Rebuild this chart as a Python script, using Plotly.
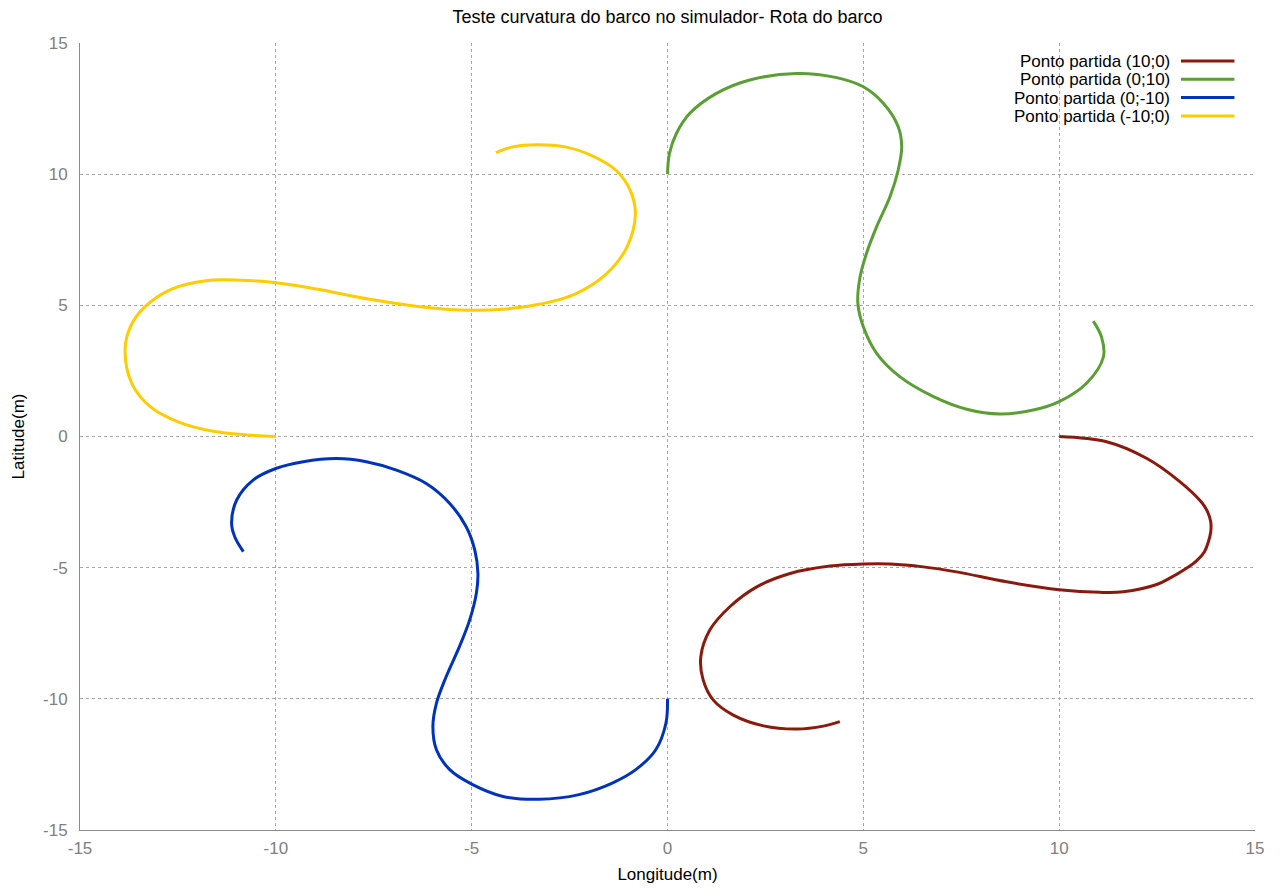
import plotly.graph_objects as go

# ---- data ----
red_x = [10.0, 11.21, 12.23, 13.08, 13.63, 13.79, 13.87, 13.87, 13.81, 13.71, 13.50, 13.22, 12.85, 12.49, 11.64, 11.04, 10.0, 8.66, 7.38,
         6.53, 5.68, 5.0, 4.15, 3.13, 2.28, 1.59, 1.08, 0.85, 0.91, 1.17, 1.68, 2.45, 3.30, 3.98, 4.40]
red_y = [0.0, -0.2, -0.83, -1.72, -2.50, -2.87, -3.25, -3.63, -4.01, -4.39, -4.75, -5.05, -5.38, -5.64, -5.92, -5.94, -5.84, -5.54, -5.16,
         -4.97, -4.86, -4.86, -4.94, -5.22, -5.73, -6.49, -7.38, -8.40, -9.28, -10.05, -10.62, -11.03, -11.15, -11.04, -10.87]

green_x = [0.0, 0.05, 0.23, 0.57, 1.25, 2.10, 3.30, 4.32, 5.0, 5.51, 5.89, 5.98, 5.89, 5.68, 5.34, 5.08, 4.91,
           4.86, 5.0, 5.34, 5.93, 6.79, 7.64, 8.49, 9.34, 10.0, 10.70, 11.13, 11.08, 10.87]
green_y = [10.0, 10.79, 11.56, 12.32, 13.08, 13.59, 13.84, 13.68, 13.33, 12.70, 11.81, 11.05, 10.16, 9.14, 8.0, 6.98, 6.03,
           5.08, 4.18, 3.17, 2.28, 1.52, 1.04, 0.86, 1.01, 1.33, 2.03, 3.04, 3.80, 4.40]

blue_x = [0.0, -0.04, -0.30, -0.81, -1.41, -2.26, -3.28, -4.20, -5.0, -5.56, -5.90, -5.99, -5.90, -5.65, -5.31, -5.05,
          -4.88, -4.84, -4.92, -5.14, -5.56, -6.16, -6.92, -7.69, -8.45, -9.30, -10.0, -10.58, -11.0, -11.13, -11.05, -10.83]
blue_y = [-10.0, -10.93, -11.94, -12.70, -13.21, -13.65, -13.83, -13.72, -13.25, -12.70, -11.94, -11.05, -10.17, -9.15, -8.0, -6.99,
          -5.98, -5.22, -4.33, -3.44, -2.55, -1.79, -1.28, -0.96, -0.84, -0.96, -1.22, -1.66, -2.42, -3.31, -3.82, -4.39]

yellow_x = [-10.0, -10.72, -11.60, -12.48, -13.19, -13.67, -13.85, -13.72, -13.36, -12.66, -11.78, -10.90, -10.0, -8.96, -7.64,
            -6.32, -5.26, -4.12, -3.24, -2.36, -1.57, -1.04, -0.82, -0.95, -1.30, -1.92, -2.62, -3.33, -3.95, -4.38]
yellow_y = [0.0, 0.06, 0.20, 0.55, 1.12, 2.0, 3.27, 4.16, 4.92, 5.62, 5.94, 5.96, 5.86, 5.62, 5.24,
            4.95, 4.82, 4.86, 5.05, 5.43, 6.19, 7.21, 8.48, 9.37, 10.13, 10.70, 11.04, 11.12, 11.04, 10.82]

series_names = ["Ponto partida (10;0)", "Ponto partida (0;10)", "Ponto partida (0;-10)", "Ponto partida (-10;0)"]
tick_vals = [-15, -10, -5, 0, 5, 10, 15]
tick_text = ["-15", "-10", "-5", "0", "5", "10", "15"]

colors = ["#8B1A0E", "#5A9E34", "#0033BB", "#FFCC00"]
FONT = "Liberation Sans, Arial, sans-serif"

fig = go.Figure()
for xs, ys, name, c in zip([red_x, green_x, blue_x, yellow_x], [red_y, green_y, blue_y, yellow_y], series_names, colors):
    fig.add_trace(go.Scatter(x=xs, y=ys, mode="lines", name=name,
                             line=dict(color=c, width=3, shape="spline", smoothing=1.0),
                             showlegend=False))

# custom legend (text on the left, line sample on the right, as in the reference)
leg_y0 = 0.977
leg_dy = 0.0232
for i, (name, c) in enumerate(zip(series_names, colors)):
    yy = leg_y0 - i * leg_dy
    fig.add_annotation(xref="paper", yref="paper", x=0.9285, y=yy, text=name, showarrow=False,
                       xanchor="right", yanchor="middle", height=18, borderpad=0,
                       font=dict(family=FONT, size=17, color="#000000"))
    fig.add_shape(type="line", xref="paper", yref="paper", x0=0.937, x1=0.9825, y0=yy, y1=yy,
                  line=dict(color=c, width=3))

axis_common = dict(
    range=[-15, 15], tickmode="array", tickvals=tick_vals, ticktext=tick_text,
    showgrid=True, gridcolor="#A8A8A8", griddash="dot", gridwidth=1,
    zeroline=False, showline=True, linecolor="#8A8A8A", linewidth=1,
    ticks="", tickfont=dict(family=FONT, size=17, color="#808080"),
    automargin=False,
)

fig.update_xaxes(**axis_common, ticklabelstandoff=3,
                 title=dict(text="Longitude(m)", font=dict(family=FONT, size=17, color="#000000"), standoff=10))
fig.update_yaxes(**axis_common, ticklabelstandoff=8,
                 title=dict(text="Latitude(m)", font=dict(family=FONT, size=17, color="#000000"), standoff=14))

fig.update_layout(
    width=1280, height=890,
    margin=dict(l=80, r=25, t=43, b=60),
    paper_bgcolor="white", plot_bgcolor="white",
    title=dict(text="Teste curvatura do barco no simulador- Rota do barco", x=0.5, xref="paper",
               y=0.981, yanchor="middle", font=dict(family=FONT, size=18, color="#000000")),
    font=dict(family=FONT),
)

fig.write_html("out.html")
